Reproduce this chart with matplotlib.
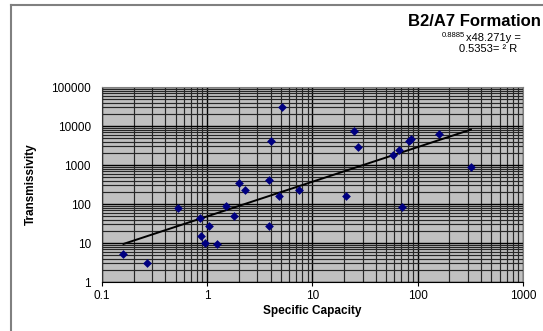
import numpy as np
import matplotlib
matplotlib.use("Agg")
import matplotlib.pyplot as plt
from matplotlib.lines import Line2D

plt.rcParams['font.family'] = ['Liberation Sans', 'DejaVu Sans']

# Specific capacity vs transmissivity
spec_capacity = [0.16, 0.27, 0.53, 0.85, 0.88, 0.95, 1.03, 1.25, 1.5, 1.8,
                 2.0, 2.3, 3.9, 3.9, 4.0, 5.1, 4.8, 7.5, 21, 25,
                 27, 58, 66, 71, 83, 87, 160, 320]
transmissivity = [5.2, 3.1, 80, 45, 15.5, 10.2, 28, 9.4, 88, 48,
                  350, 230, 410, 27, 4200, 31000, 165, 230, 160, 7500,
                  2900, 1800, 2500, 82, 4100, 4700, 6200, 870]

# power trendline coefficients as shown on the chart
coef_a = 48.271
coef_b = 0.8885

fig = plt.figure(figsize=(5.43, 3.31), dpi=100)
ax = fig.add_axes([0.1878, 0.148, 0.7754, 0.589])
ax.set_facecolor('#c0c0c0')

ax.set_xscale('log')
ax.set_yscale('log')
ax.set_xlim(0.1, 1000)
ax.set_ylim(1, 100000)

ax.grid(which='major', color='black', linewidth=1.0)
ax.grid(which='minor', color='#262626', linewidth=0.85)
ax.set_axisbelow(True)

xs = np.array([min(spec_capacity), max(spec_capacity)])
xfit = np.logspace(np.log10(xs[0]), np.log10(xs[1]), 50)
ax.plot(xfit, coef_a * xfit ** coef_b, color='black', linewidth=1.4, zorder=3)
ax.scatter(spec_capacity, transmissivity, marker='D', s=20, color='#000080',
           zorder=4, linewidths=0)

ax.set_xticks([0.1, 1, 10, 100, 1000])
ax.set_xticklabels(['0.1', '1', '10', '100', '1000'])
ax.set_yticks([1, 10, 100, 1000, 10000, 100000])
ax.set_yticklabels(['1', '10', '100', '1000', '10000', '100000'])
ax.tick_params(which='major', length=3, width=0.8, labelsize=8.5, pad=3)
ax.tick_params(which='minor', length=0)
ax.tick_params(axis='y', length=0, pad=8)

for side in ['top', 'right']:
    ax.spines[side].set_color('#808080')
ax.spines['bottom'].set_color('black')
ax.spines['left'].set_color('#333333')

ax.set_xlabel('Specific Capacity', fontsize=8.5, fontweight='bold', labelpad=2)
ax.set_ylabel('Transmissivity', fontsize=8.5, fontweight='bold', labelpad=10)

fig.text(0.997, 0.935, 'B2/A7 Formation', ha='right', va='center',
         fontsize=12, fontweight='bold')
fig.text(0.858, 0.885, 'x48.271y =', ha='left', va='center', fontsize=8)
fig.text(0.856, 0.894, '0.8885', ha='right', va='center', fontsize=5.5)
fig.text(0.899, 0.851, '0.5353= \u00b2 R', ha='center', va='center', fontsize=8)

# chart area border (left and top edges visible)
fig.add_artist(Line2D([11 / 543, 11 / 543], [0, 1 - 5 / 331],
                      transform=fig.transFigure, color='#808080', linewidth=1.5))
fig.add_artist(Line2D([11 / 543, 1], [1 - 5 / 331, 1 - 5 / 331],
                      transform=fig.transFigure, color='#808080', linewidth=1.5))

fig.savefig('out.png', dpi=100)
